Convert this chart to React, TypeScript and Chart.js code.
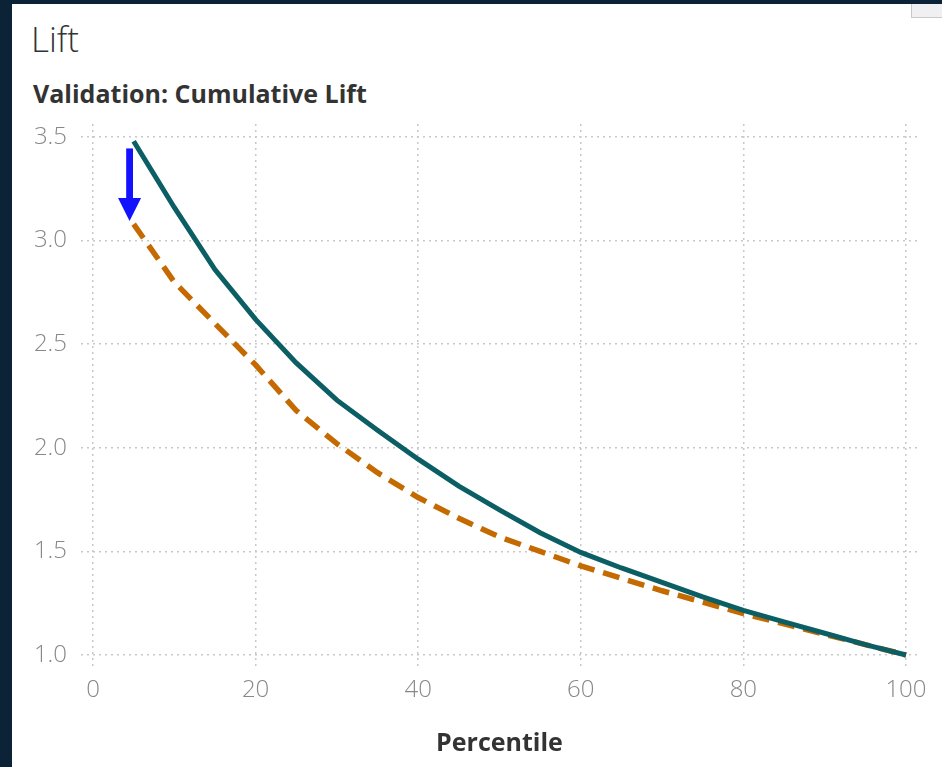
import React, { useEffect, useRef } from "react";
import { Chart, registerables } from "chart.js";

Chart.register(...registerables);

// ---- data ----
const percentiles = [5, 10, 15, 20, 25, 30, 35, 40, 45, 50, 55, 60, 65, 70, 75, 80, 85, 90, 95, 100];
const bestLift = [3.48, 3.16, 2.86, 2.62, 2.41, 2.23, 2.085, 1.945, 1.815, 1.7, 1.59, 1.495, 1.42, 1.35, 1.28, 1.215, 1.16, 1.105, 1.05, 1.0];
const modelLift = [3.08, 2.80, 2.60, 2.40, 2.18, 2.02, 1.88, 1.76, 1.66, 1.57, 1.50, 1.43, 1.37, 1.31, 1.255, 1.20, 1.15, 1.10, 1.05, 1.0];
const xTickValues = [0, 20, 40, 60, 80, 100];
const yTickValues = [1.0, 1.5, 2.0, 2.5, 3.0, 3.5];
const arrowX = 4.5;
const arrowFrom = 3.445;
const arrowTo = 3.095;

const FONT = "'Open Sans', 'DejaVu Sans', sans-serif";

const arrowPlugin = {
  id: "downArrow",
  afterDatasetsDraw(chart: any) {
    const { ctx, scales } = chart;
    const x = scales.x.getPixelForValue(arrowX);
    const y0 = scales.y.getPixelForValue(arrowFrom);
    const y1 = scales.y.getPixelForValue(arrowTo);
    const headLen = 23;
    const headHalf = 11.5;
    const shaftHalf = 3.4;
    ctx.save();
    ctx.fillStyle = "#1212ff";
    ctx.fillRect(x - shaftHalf, y0, shaftHalf * 2, y1 - headLen - y0 + 1);
    ctx.beginPath();
    ctx.moveTo(x - headHalf, y1 - headLen);
    ctx.lineTo(x + headHalf, y1 - headLen);
    ctx.lineTo(x, y1);
    ctx.closePath();
    ctx.fill();
    ctx.restore();
  },
};

export default function App() {
  const canvasRef = useRef<HTMLCanvasElement | null>(null);

  useEffect(() => {
    if (!canvasRef.current) return;
    const chart = new Chart(canvasRef.current, {
      type: "line",
      data: {
        datasets: [
          {
            label: "Best",
            data: percentiles.map((p, i) => ({ x: p, y: bestLift[i] })),
            borderColor: "#0b5f64",
            borderWidth: 5,
            pointRadius: 0,
            tension: 0,
            fill: false,
          },
          {
            label: "Model",
            data: percentiles.map((p, i) => ({ x: p, y: modelLift[i] })),
            borderColor: "#c46a00",
            borderWidth: 5.5,
            borderDash: [17, 9],
            pointRadius: 0,
            tension: 0,
            fill: false,
          },
        ],
      },
      options: {
        animation: false,
        responsive: false,
        layout: { padding: { top: 14, right: 24, left: 0, bottom: 0 } },
        plugins: {
          legend: { display: false },
          tooltip: { enabled: false },
        },
        scales: {
          x: {
            type: "linear",
            min: -1.476,
            max: 101.48,
            afterBuildTicks: (s: any) => {
              s.ticks = xTickValues.map((v) => ({ value: v }));
            },
            afterFit: (s: any) => {
              s.height = 100;
              s.paddingLeft = 0;
              s.paddingRight = 0;
            },
            grid: { color: "#c8c8c8", lineWidth: 1.5, drawTicks: false },
            border: { display: false, dash: [2, 4] },
            ticks: {
              padding: 9,
              color: "#888888",
              font: { family: FONT, size: 24, weight: "300" },
              maxRotation: 0,
              autoSkip: false,
              callback: (v: any) => String(v),
            },
            title: {
              display: true,
              text: "Percentile",
              color: "#333333",
              font: { family: FONT, size: 25, weight: "bold" },
              padding: { top: 0, bottom: 8 },
            },
          },
          y: {
            type: "linear",
            min: 0.942,
            max: 3.563,
            afterBuildTicks: (s: any) => {
              s.ticks = yTickValues.map((v) => ({ value: v }));
            },
            afterFit: (s: any) => {
              s.width = 69;
              s.paddingTop = 0;
              s.paddingBottom = 0;
            },
            grid: { color: "#c8c8c8", lineWidth: 1.5, drawTicks: false },
            border: { display: false, dash: [2, 4] },
            ticks: {
              padding: 14,
              color: "#888888",
              font: { family: FONT, size: 24, weight: "300" },
              autoSkip: false,
              callback: (v: any) => Number(v).toFixed(1),
            },
          },
        },
      },
      plugins: [arrowPlugin],
    });
    return () => chart.destroy();
  }, []);

  return (
    <div
      style={{
        position: "fixed",
        left: 0,
        top: 0,
        width: 942,
        height: 767,
        background: "#0b2237",
        overflow: "hidden",
      }}
    >
      <div
        style={{
          position: "absolute",
          left: 12,
          top: 4,
          width: 930,
          height: 763,
          background: "#ffffff",
        }}
      >
        <div
          style={{
            position: "absolute",
            left: 899,
            top: 0,
            width: 31,
            height: 14,
            background: "#f0f0f3",
            borderLeft: "1px solid #c8c8cc",
            borderBottom: "1px solid #c8c8cc",
            boxSizing: "border-box",
          }}
        />
        <div
          style={{
            position: "absolute",
            left: 19,
            top: 17,
            fontFamily: FONT,
            fontWeight: 300,
            fontSize: 35,
            lineHeight: "35px",
            color: "#333333",
            whiteSpace: "nowrap",
          }}
        >
          Lift
        </div>
        <div
          style={{
            position: "absolute",
            left: 21,
            top: 77,
            fontFamily: FONT,
            fontWeight: 700,
            fontSize: 25,
            lineHeight: "25px",
            color: "#333333",
            whiteSpace: "nowrap",
          }}
        >
          Validation: Cumulative Lift
        </div>
        <div style={{ position: "absolute", left: 0, top: 106, width: 930, height: 657 }}>
          <canvas ref={canvasRef} width={930} height={657} style={{ display: "block" }} />
        </div>
      </div>
    </div>
  );
}
